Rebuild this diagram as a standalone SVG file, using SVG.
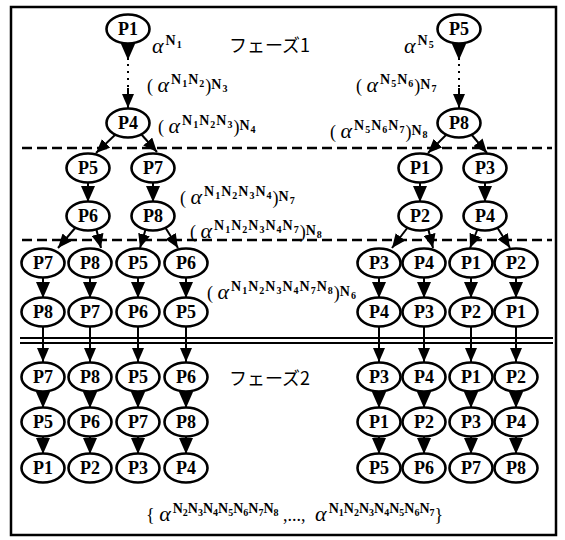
<svg xmlns="http://www.w3.org/2000/svg" width="565" height="540" viewBox="0 0 565 540">
<defs>
<style>
.frame{fill:none;stroke:#000;stroke-width:2.5}
.nd ellipse{fill:#fff;stroke:#000;stroke-width:2.6}
.nd text{font-family:"Liberation Serif",serif;font-weight:bold;font-size:18px;text-anchor:middle;fill:#000}
.cn line{stroke:#000;stroke-width:2}
.dash{stroke:#000;stroke-width:2.5;stroke-dasharray:10 5}
.dbl{stroke:#000;stroke-width:2}
.dot{stroke:#000;stroke-width:2;stroke-dasharray:2 5}
.lab{font-family:"Liberation Serif",serif;font-size:18px;fill:#000}
.al{font-style:italic;font-size:22px}
.n{font-size:14px;font-weight:bold;letter-spacing:1px}
.d{font-size:10px;font-weight:bold;letter-spacing:1px}
.bt .n,.bt .d{letter-spacing:0}
.jp{font-family:"Noto Sans CJK JP",sans-serif;font-size:18px;fill:#000}
</style>
<marker id="tri" viewBox="0 0 16 14" refX="16" refY="7" markerWidth="16" markerHeight="14" markerUnits="userSpaceOnUse" orient="auto"><path d="M0,0 L16,7 L0,14 z" fill="#000"/></marker>
<marker id="ah" viewBox="0 0 14 12" refX="14" refY="6" markerWidth="14" markerHeight="12" markerUnits="userSpaceOnUse" orient="auto"><path d="M0,0 L14,6 L0,12 z" fill="#000"/></marker>
</defs>
<rect class="frame" x="11" y="7" width="545" height="528"/>
<g id="separators">
<line class="dash" x1="22" y1="148" x2="552" y2="148"/>
<line class="dash" x1="22" y1="240" x2="552" y2="240"/>
<line class="dbl" x1="20" y1="338" x2="553" y2="338"/>
<line class="dbl" x1="20" y1="343" x2="553" y2="343"/>
</g>
<g id="connectors" class="cn">
<line x1="128" y1="42" x2="128" y2="60" marker-end="url(#tri)"/>
<line class="dot" x1="128" y1="64" x2="128" y2="88"/>
<line x1="128" y1="88" x2="128" y2="108" marker-end="url(#ah)"/>
<line x1="459" y1="42" x2="459" y2="60" marker-end="url(#tri)"/>
<line class="dot" x1="459" y1="64" x2="459" y2="88"/>
<line x1="459" y1="88" x2="459" y2="108" marker-end="url(#ah)"/>
<line x1="116" y1="134" x2="96" y2="153" marker-end="url(#ah)"/>
<line x1="141" y1="134" x2="157" y2="152" marker-end="url(#ah)"/>
<line x1="447" y1="134" x2="428" y2="153" marker-end="url(#ah)"/>
<line x1="471" y1="134" x2="487" y2="153" marker-end="url(#ah)"/>
<line x1="88" y1="181" x2="88" y2="202" marker-end="url(#tri)"/>
<line x1="153" y1="181" x2="153" y2="202" marker-end="url(#tri)"/>
<line x1="420" y1="181" x2="420" y2="202" marker-end="url(#tri)"/>
<line x1="485" y1="181" x2="485" y2="202" marker-end="url(#tri)"/>
<line x1="76" y1="227" x2="58" y2="248" marker-end="url(#ah)"/>
<line x1="96" y1="228" x2="101" y2="248" marker-end="url(#ah)"/>
<line x1="146" y1="228" x2="140" y2="248" marker-end="url(#ah)"/>
<line x1="165" y1="227" x2="178" y2="248" marker-end="url(#ah)"/>
<line x1="408" y1="227" x2="392" y2="248" marker-end="url(#ah)"/>
<line x1="428" y1="228" x2="433" y2="248" marker-end="url(#ah)"/>
<line x1="478" y1="228" x2="470" y2="248" marker-end="url(#ah)"/>
<line x1="497" y1="227" x2="510" y2="248" marker-end="url(#ah)"/>
<line x1="43" y1="276" x2="43" y2="298" marker-end="url(#tri)"/>
<line x1="90" y1="276" x2="90" y2="298" marker-end="url(#tri)"/>
<line x1="138" y1="276" x2="138" y2="298" marker-end="url(#tri)"/>
<line x1="186" y1="276" x2="186" y2="298" marker-end="url(#tri)"/>
<line x1="379" y1="276" x2="379" y2="298" marker-end="url(#tri)"/>
<line x1="424" y1="276" x2="424" y2="298" marker-end="url(#tri)"/>
<line x1="471" y1="276" x2="471" y2="298" marker-end="url(#tri)"/>
<line x1="516" y1="276" x2="516" y2="298" marker-end="url(#tri)"/>
<line x1="43" y1="325" x2="43" y2="362" marker-end="url(#ah)"/>
<line x1="90" y1="325" x2="90" y2="362" marker-end="url(#ah)"/>
<line x1="138" y1="325" x2="138" y2="362" marker-end="url(#ah)"/>
<line x1="186" y1="325" x2="186" y2="362" marker-end="url(#ah)"/>
<line x1="379" y1="325" x2="379" y2="362" marker-end="url(#ah)"/>
<line x1="424" y1="325" x2="424" y2="362" marker-end="url(#ah)"/>
<line x1="471" y1="325" x2="471" y2="362" marker-end="url(#ah)"/>
<line x1="516" y1="325" x2="516" y2="362" marker-end="url(#ah)"/>
<line x1="43" y1="390" x2="43" y2="408" marker-end="url(#tri)"/>
<line x1="90" y1="390" x2="90" y2="408" marker-end="url(#tri)"/>
<line x1="138" y1="390" x2="138" y2="408" marker-end="url(#tri)"/>
<line x1="186" y1="390" x2="186" y2="408" marker-end="url(#tri)"/>
<line x1="379" y1="390" x2="379" y2="408" marker-end="url(#tri)"/>
<line x1="424" y1="390" x2="424" y2="408" marker-end="url(#tri)"/>
<line x1="471" y1="390" x2="471" y2="408" marker-end="url(#tri)"/>
<line x1="516" y1="390" x2="516" y2="408" marker-end="url(#tri)"/>
<line x1="43" y1="435" x2="43" y2="454" marker-end="url(#tri)"/>
<line x1="90" y1="435" x2="90" y2="454" marker-end="url(#tri)"/>
<line x1="138" y1="435" x2="138" y2="454" marker-end="url(#tri)"/>
<line x1="186" y1="435" x2="186" y2="454" marker-end="url(#tri)"/>
<line x1="379" y1="435" x2="379" y2="454" marker-end="url(#tri)"/>
<line x1="424" y1="435" x2="424" y2="454" marker-end="url(#tri)"/>
<line x1="471" y1="435" x2="471" y2="454" marker-end="url(#tri)"/>
<line x1="516" y1="435" x2="516" y2="454" marker-end="url(#tri)"/>
</g>
<g id="n-top-p1" class="nd"><ellipse cx="128" cy="29" rx="21.5" ry="14.5"/><text x="128" y="35">P1</text></g>
<g id="n-top-p4" class="nd"><ellipse cx="128" cy="123" rx="21.5" ry="14.5"/><text x="128" y="129">P4</text></g>
<g id="n-top-p5" class="nd"><ellipse cx="459" cy="29" rx="21.5" ry="14.5"/><text x="459" y="35">P5</text></g>
<g id="n-top-p8" class="nd"><ellipse cx="459" cy="123" rx="21.5" ry="14.5"/><text x="459" y="129">P8</text></g>
<g id="n-l2-p5" class="nd"><ellipse cx="88" cy="168" rx="21.5" ry="14.5"/><text x="88" y="174">P5</text></g>
<g id="n-l2-p7" class="nd"><ellipse cx="153" cy="168" rx="21.5" ry="14.5"/><text x="153" y="174">P7</text></g>
<g id="n-r2-p1" class="nd"><ellipse cx="420" cy="168" rx="21.5" ry="14.5"/><text x="420" y="174">P1</text></g>
<g id="n-r2-p3" class="nd"><ellipse cx="485" cy="168" rx="21.5" ry="14.5"/><text x="485" y="174">P3</text></g>
<g id="n-l3-p6" class="nd"><ellipse cx="88" cy="216" rx="21.5" ry="14.5"/><text x="88" y="222">P6</text></g>
<g id="n-l3-p8" class="nd"><ellipse cx="153" cy="216" rx="21.5" ry="14.5"/><text x="153" y="222">P8</text></g>
<g id="n-r3-p2" class="nd"><ellipse cx="420" cy="216" rx="21.5" ry="14.5"/><text x="420" y="222">P2</text></g>
<g id="n-r3-p4" class="nd"><ellipse cx="485" cy="216" rx="21.5" ry="14.5"/><text x="485" y="222">P4</text></g>
<g id="n-r4-1" class="nd"><ellipse cx="43" cy="263" rx="21.5" ry="14.5"/><text x="43" y="269">P7</text></g>
<g id="n-r4-2" class="nd"><ellipse cx="90" cy="263" rx="21.5" ry="14.5"/><text x="90" y="269">P8</text></g>
<g id="n-r4-3" class="nd"><ellipse cx="138" cy="263" rx="21.5" ry="14.5"/><text x="138" y="269">P5</text></g>
<g id="n-r4-4" class="nd"><ellipse cx="186" cy="263" rx="21.5" ry="14.5"/><text x="186" y="269">P6</text></g>
<g id="n-r4-5" class="nd"><ellipse cx="379" cy="263" rx="21.5" ry="14.5"/><text x="379" y="269">P3</text></g>
<g id="n-r4-6" class="nd"><ellipse cx="424" cy="263" rx="21.5" ry="14.5"/><text x="424" y="269">P4</text></g>
<g id="n-r4-7" class="nd"><ellipse cx="471" cy="263" rx="21.5" ry="14.5"/><text x="471" y="269">P1</text></g>
<g id="n-r4-8" class="nd"><ellipse cx="516" cy="263" rx="21.5" ry="14.5"/><text x="516" y="269">P2</text></g>
<g id="n-r5-1" class="nd"><ellipse cx="43" cy="312" rx="21.5" ry="14.5"/><text x="43" y="318">P8</text></g>
<g id="n-r5-2" class="nd"><ellipse cx="90" cy="312" rx="21.5" ry="14.5"/><text x="90" y="318">P7</text></g>
<g id="n-r5-3" class="nd"><ellipse cx="138" cy="312" rx="21.5" ry="14.5"/><text x="138" y="318">P6</text></g>
<g id="n-r5-4" class="nd"><ellipse cx="186" cy="312" rx="21.5" ry="14.5"/><text x="186" y="318">P5</text></g>
<g id="n-r5-5" class="nd"><ellipse cx="379" cy="312" rx="21.5" ry="14.5"/><text x="379" y="318">P4</text></g>
<g id="n-r5-6" class="nd"><ellipse cx="424" cy="312" rx="21.5" ry="14.5"/><text x="424" y="318">P3</text></g>
<g id="n-r5-7" class="nd"><ellipse cx="471" cy="312" rx="21.5" ry="14.5"/><text x="471" y="318">P2</text></g>
<g id="n-r5-8" class="nd"><ellipse cx="516" cy="312" rx="21.5" ry="14.5"/><text x="516" y="318">P1</text></g>
<g id="n-r6-1" class="nd"><ellipse cx="43" cy="377" rx="21.5" ry="14.5"/><text x="43" y="383">P7</text></g>
<g id="n-r6-2" class="nd"><ellipse cx="90" cy="377" rx="21.5" ry="14.5"/><text x="90" y="383">P8</text></g>
<g id="n-r6-3" class="nd"><ellipse cx="138" cy="377" rx="21.5" ry="14.5"/><text x="138" y="383">P5</text></g>
<g id="n-r6-4" class="nd"><ellipse cx="186" cy="377" rx="21.5" ry="14.5"/><text x="186" y="383">P6</text></g>
<g id="n-r6-5" class="nd"><ellipse cx="379" cy="377" rx="21.5" ry="14.5"/><text x="379" y="383">P3</text></g>
<g id="n-r6-6" class="nd"><ellipse cx="424" cy="377" rx="21.5" ry="14.5"/><text x="424" y="383">P4</text></g>
<g id="n-r6-7" class="nd"><ellipse cx="471" cy="377" rx="21.5" ry="14.5"/><text x="471" y="383">P1</text></g>
<g id="n-r6-8" class="nd"><ellipse cx="516" cy="377" rx="21.5" ry="14.5"/><text x="516" y="383">P2</text></g>
<g id="n-r7-1" class="nd"><ellipse cx="43" cy="422" rx="21.5" ry="14.5"/><text x="43" y="428">P5</text></g>
<g id="n-r7-2" class="nd"><ellipse cx="90" cy="422" rx="21.5" ry="14.5"/><text x="90" y="428">P6</text></g>
<g id="n-r7-3" class="nd"><ellipse cx="138" cy="422" rx="21.5" ry="14.5"/><text x="138" y="428">P7</text></g>
<g id="n-r7-4" class="nd"><ellipse cx="186" cy="422" rx="21.5" ry="14.5"/><text x="186" y="428">P8</text></g>
<g id="n-r7-5" class="nd"><ellipse cx="379" cy="422" rx="21.5" ry="14.5"/><text x="379" y="428">P1</text></g>
<g id="n-r7-6" class="nd"><ellipse cx="424" cy="422" rx="21.5" ry="14.5"/><text x="424" y="428">P2</text></g>
<g id="n-r7-7" class="nd"><ellipse cx="471" cy="422" rx="21.5" ry="14.5"/><text x="471" y="428">P3</text></g>
<g id="n-r7-8" class="nd"><ellipse cx="516" cy="422" rx="21.5" ry="14.5"/><text x="516" y="428">P4</text></g>
<g id="n-r8-1" class="nd"><ellipse cx="43" cy="468" rx="21.5" ry="14.5"/><text x="43" y="474">P1</text></g>
<g id="n-r8-2" class="nd"><ellipse cx="90" cy="468" rx="21.5" ry="14.5"/><text x="90" y="474">P2</text></g>
<g id="n-r8-3" class="nd"><ellipse cx="138" cy="468" rx="21.5" ry="14.5"/><text x="138" y="474">P3</text></g>
<g id="n-r8-4" class="nd"><ellipse cx="186" cy="468" rx="21.5" ry="14.5"/><text x="186" y="474">P4</text></g>
<g id="n-r8-5" class="nd"><ellipse cx="379" cy="468" rx="21.5" ry="14.5"/><text x="379" y="474">P5</text></g>
<g id="n-r8-6" class="nd"><ellipse cx="424" cy="468" rx="21.5" ry="14.5"/><text x="424" y="474">P6</text></g>
<g id="n-r8-7" class="nd"><ellipse cx="471" cy="468" rx="21.5" ry="14.5"/><text x="471" y="474">P7</text></g>
<g id="n-r8-8" class="nd"><ellipse cx="516" cy="468" rx="21.5" ry="14.5"/><text x="516" y="474">P8</text></g>
<g id="labels">
<text class="lab" x="152" y="53"><tspan class="al">α</tspan><tspan class="n" dx="2" dy="-8">N</tspan><tspan class="d" dy="3">1</tspan></text>
<text class="jp" x="229" y="52">フェーズ1</text>
<text class="lab" x="404" y="53"><tspan class="al">α</tspan><tspan class="n" dx="2" dy="-8">N</tspan><tspan class="d" dy="3">5</tspan></text>
<text class="lab" x="147" y="92">( <tspan class="al">α</tspan><tspan class="n" dx="2" dy="-8">N</tspan><tspan class="d" dy="3">1</tspan><tspan class="n" dy="-3">N</tspan><tspan class="d" dy="3">2</tspan><tspan dy="5">)</tspan><tspan class="n" dy="-3">N</tspan><tspan class="d" dy="3">3</tspan></text>
<text class="lab" x="356" y="92">( <tspan class="al">α</tspan><tspan class="n" dx="2" dy="-8">N</tspan><tspan class="d" dy="3">5</tspan><tspan class="n" dy="-3">N</tspan><tspan class="d" dy="3">6</tspan><tspan dy="5">)</tspan><tspan class="n" dy="-3">N</tspan><tspan class="d" dy="3">7</tspan></text>
<text class="lab" x="158" y="133">( <tspan class="al">α</tspan><tspan class="n" dx="2" dy="-8">N</tspan><tspan class="d" dy="3">1</tspan><tspan class="n" dy="-3">N</tspan><tspan class="d" dy="3">2</tspan><tspan class="n" dy="-3">N</tspan><tspan class="d" dy="3">3</tspan><tspan dy="5">)</tspan><tspan class="n" dy="-3">N</tspan><tspan class="d" dy="3">4</tspan></text>
<text class="lab" x="330" y="138">( <tspan class="al">α</tspan><tspan class="n" dx="2" dy="-8">N</tspan><tspan class="d" dy="3">5</tspan><tspan class="n" dy="-3">N</tspan><tspan class="d" dy="3">6</tspan><tspan class="n" dy="-3">N</tspan><tspan class="d" dy="3">7</tspan><tspan dy="5">)</tspan><tspan class="n" dy="-3">N</tspan><tspan class="d" dy="3">8</tspan></text>
<text class="lab" x="180" y="204">( <tspan class="al">α</tspan><tspan class="n" dx="2" dy="-8">N</tspan><tspan class="d" dy="3">1</tspan><tspan class="n" dy="-3">N</tspan><tspan class="d" dy="3">2</tspan><tspan class="n" dy="-3">N</tspan><tspan class="d" dy="3">3</tspan><tspan class="n" dy="-3">N</tspan><tspan class="d" dy="3">4</tspan><tspan dy="5">)</tspan><tspan class="n" dy="-3">N</tspan><tspan class="d" dy="3">7</tspan></text>
<text class="lab" x="190" y="238">( <tspan class="al">α</tspan><tspan class="n" dx="2" dy="-8">N</tspan><tspan class="d" dy="3">1</tspan><tspan class="n" dy="-3">N</tspan><tspan class="d" dy="3">2</tspan><tspan class="n" dy="-3">N</tspan><tspan class="d" dy="3">3</tspan><tspan class="n" dy="-3">N</tspan><tspan class="d" dy="3">4</tspan><tspan class="n" dy="-3">N</tspan><tspan class="d" dy="3">7</tspan><tspan dy="5">)</tspan><tspan class="n" dy="-3">N</tspan><tspan class="d" dy="3">8</tspan></text>
<text class="lab" x="207" y="299">( <tspan class="al">α</tspan><tspan class="n" dx="2" dy="-8">N</tspan><tspan class="d" dy="3">1</tspan><tspan class="n" dy="-3">N</tspan><tspan class="d" dy="3">2</tspan><tspan class="n" dy="-3">N</tspan><tspan class="d" dy="3">3</tspan><tspan class="n" dy="-3">N</tspan><tspan class="d" dy="3">4</tspan><tspan class="n" dy="-3">N</tspan><tspan class="d" dy="3">7</tspan><tspan class="n" dy="-3">N</tspan><tspan class="d" dy="3">8</tspan><tspan dy="5">)</tspan><tspan class="n" dy="-3">N</tspan><tspan class="d" dy="3">6</tspan></text>
<text class="jp" x="229" y="385">フェーズ2</text>
<text class="lab bt" x="146" y="521">{ <tspan class="al">α</tspan><tspan class="n" dx="2" dy="-8">N</tspan><tspan class="d" dy="3">2</tspan><tspan class="n" dy="-3">N</tspan><tspan class="d" dy="3">3</tspan><tspan class="n" dy="-3">N</tspan><tspan class="d" dy="3">4</tspan><tspan class="n" dy="-3">N</tspan><tspan class="d" dy="3">5</tspan><tspan class="n" dy="-3">N</tspan><tspan class="d" dy="3">6</tspan><tspan class="n" dy="-3">N</tspan><tspan class="d" dy="3">7</tspan><tspan class="n" dy="-3">N</tspan><tspan class="d" dy="3">8</tspan><tspan dy="5"> ,...,  </tspan><tspan class="al" dx="5">α</tspan><tspan class="n" dx="2" dy="-8">N</tspan><tspan class="d" dy="3">1</tspan><tspan class="n" dy="-3">N</tspan><tspan class="d" dy="3">2</tspan><tspan class="n" dy="-3">N</tspan><tspan class="d" dy="3">3</tspan><tspan class="n" dy="-3">N</tspan><tspan class="d" dy="3">4</tspan><tspan class="n" dy="-3">N</tspan><tspan class="d" dy="3">5</tspan><tspan class="n" dy="-3">N</tspan><tspan class="d" dy="3">6</tspan><tspan class="n" dy="-3">N</tspan><tspan class="d" dy="3">7</tspan><tspan dy="5">}</tspan></text>
</g>
</svg>
